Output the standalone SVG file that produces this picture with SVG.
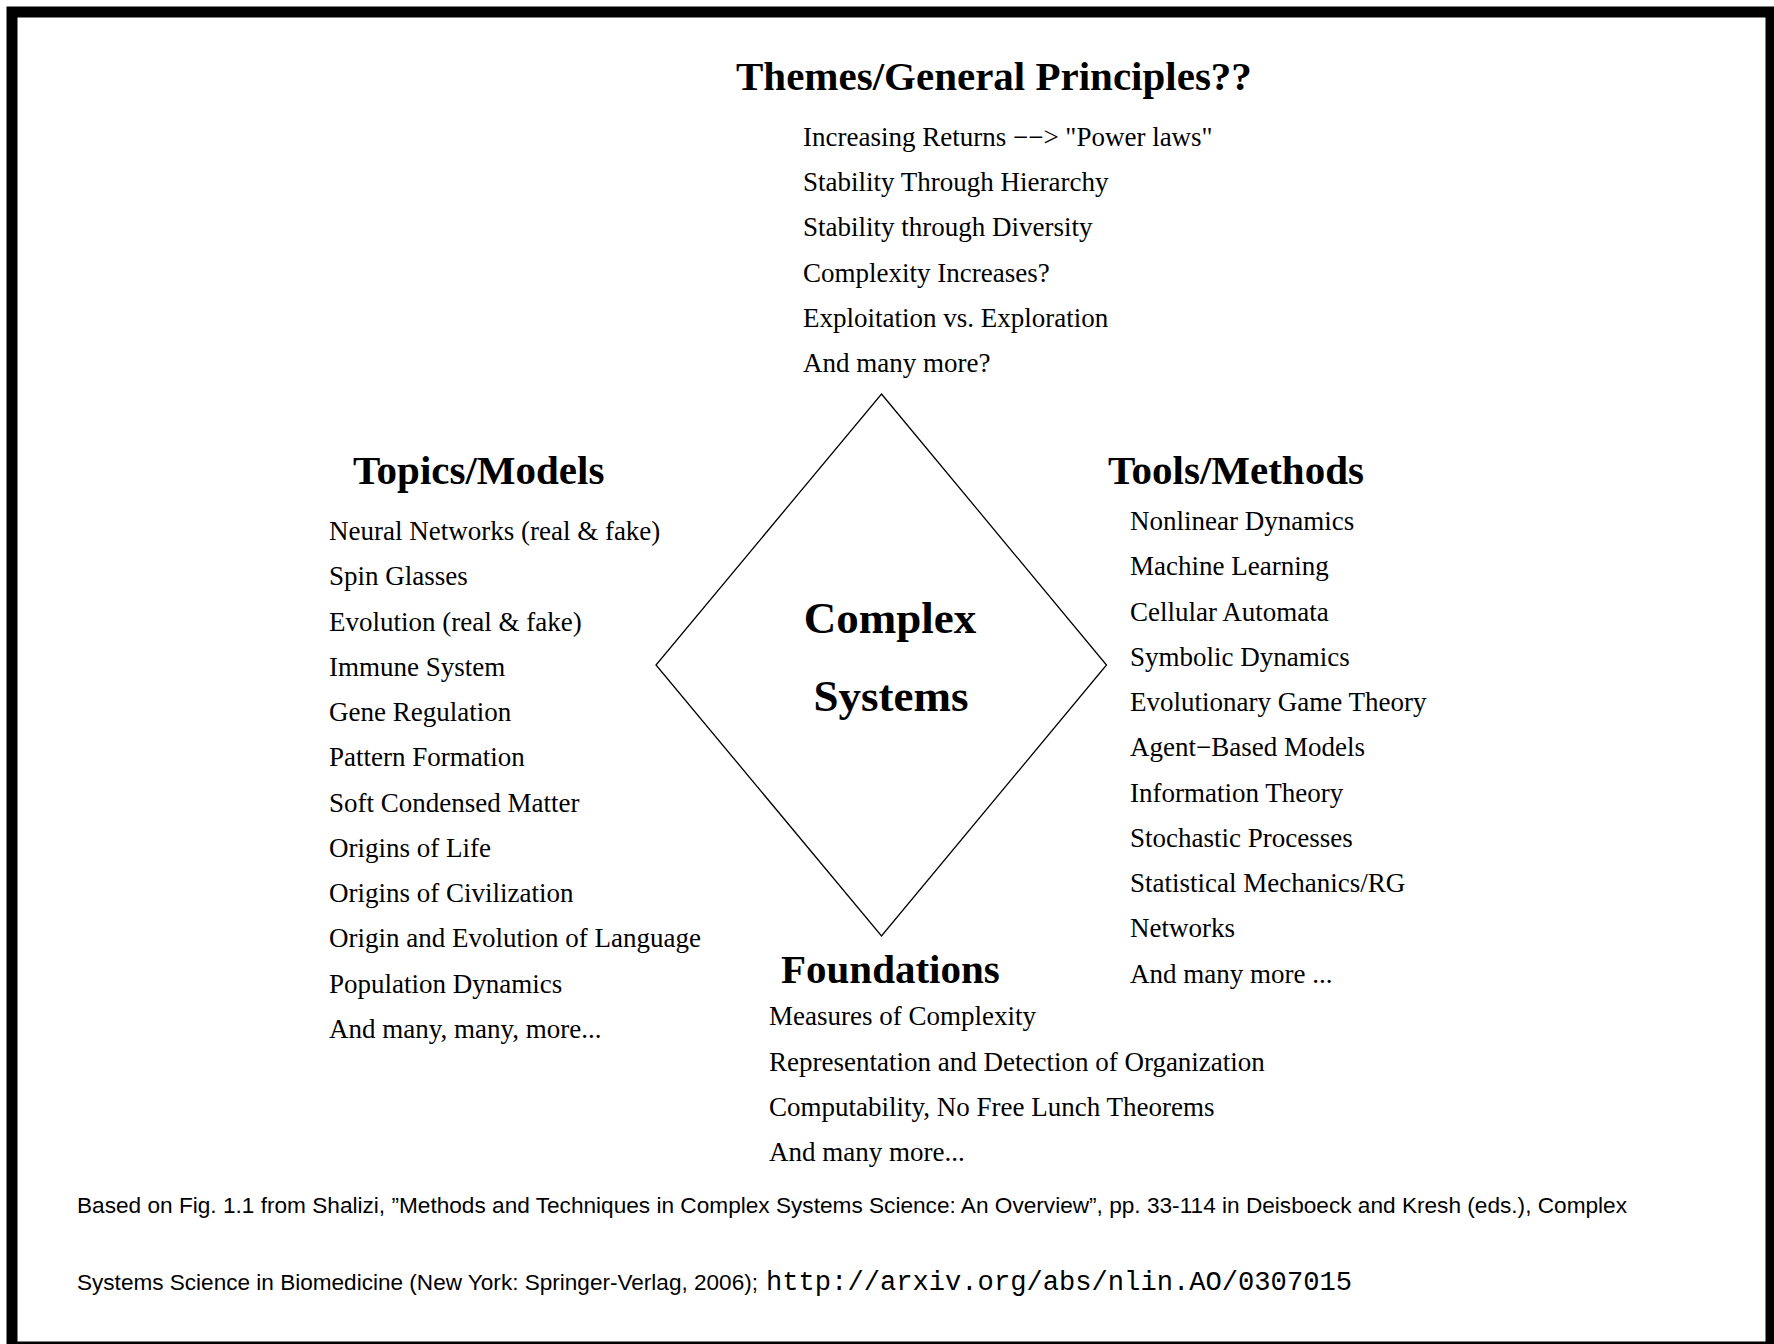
<svg xmlns="http://www.w3.org/2000/svg" width="1774" height="1344" viewBox="0 0 1774 1344">
<style>
.hd{font-family:"Liberation Serif","Times New Roman",serif;font-weight:bold;font-size:41px;fill:#000}
.it{font-family:"Liberation Serif","Times New Roman",serif;font-size:27px;fill:#000}
.cs{font-family:"Liberation Serif","Times New Roman",serif;font-weight:bold;font-size:45px;fill:#000}
.ft{font-family:"Liberation Sans",Arial,sans-serif;font-size:22px;fill:#000}
.mono{font-family:"Liberation Mono","Courier New",monospace;font-size:27px;fill:#000}
</style>
<rect x="0" y="0" width="1774" height="1344" fill="#fff"/>
<rect x="12" y="12" width="1759" height="1335" fill="none" stroke="#000" stroke-width="11"/>
<g id="connectors"></g>
<g id="center">
<polygon points="881.5,394 1106.5,665 881.5,936 656,665" fill="none" stroke="#000" stroke-width="1.3"/>
<text class="cs" x="890" y="633" text-anchor="middle">Complex</text>
<text class="cs" x="891" y="711" text-anchor="middle">Systems</text>
</g>
<g id="themes">
<text class="hd" x="736" y="90">Themes/General Principles??</text>
<text class="it" x="803" y="146">Increasing Returns −−&gt; "Power laws"</text>
<text class="it" x="803" y="191">Stability Through Hierarchy</text>
<text class="it" x="803" y="236">Stability through Diversity</text>
<text class="it" x="803" y="282">Complexity Increases?</text>
<text class="it" x="803" y="327">Exploitation vs. Exploration</text>
<text class="it" x="803" y="372">And many more?</text>
</g>
<g id="topics">
<text class="hd" x="353" y="484">Topics/Models</text>
<text class="it" x="329" y="540">Neural Networks (real &amp; fake)</text>
<text class="it" x="329" y="585">Spin Glasses</text>
<text class="it" x="329" y="630.5">Evolution (real &amp; fake)</text>
<text class="it" x="329" y="676">Immune System</text>
<text class="it" x="329" y="721">Gene Regulation</text>
<text class="it" x="329" y="766">Pattern Formation</text>
<text class="it" x="329" y="811.5">Soft Condensed Matter</text>
<text class="it" x="329" y="857">Origins of Life</text>
<text class="it" x="329" y="902">Origins of Civilization</text>
<text class="it" x="329" y="947">Origin and Evolution of Language</text>
<text class="it" x="329" y="992.5">Population Dynamics</text>
<text class="it" x="329" y="1038">And many, many, more...</text>
</g>
<g id="tools">
<text class="hd" x="1108" y="484">Tools/Methods</text>
<text class="it" x="1130" y="530">Nonlinear Dynamics</text>
<text class="it" x="1130" y="575">Machine Learning</text>
<text class="it" x="1130" y="620.5">Cellular Automata</text>
<text class="it" x="1130" y="666">Symbolic Dynamics</text>
<text class="it" x="1130" y="711">Evolutionary Game Theory</text>
<text class="it" x="1130" y="756">Agent−Based Models</text>
<text class="it" x="1130" y="801.5">Information Theory</text>
<text class="it" x="1130" y="847">Stochastic Processes</text>
<text class="it" x="1130" y="892">Statistical Mechanics/RG</text>
<text class="it" x="1130" y="937">Networks</text>
<text class="it" x="1130" y="982.5">And many more ...</text>
</g>
<g id="foundations">
<text class="hd" x="781" y="983">Foundations</text>
<text class="it" x="769" y="1025">Measures of Complexity</text>
<text class="it" x="769" y="1070.5">Representation and Detection of Organization</text>
<text class="it" x="769" y="1116">Computability, No Free Lunch Theorems</text>
<text class="it" x="769" y="1161">And many more...</text>
</g>
<g id="footer">
<text class="ft" x="77" y="1213" textLength="1550" lengthAdjust="spacingAndGlyphs">Based on Fig. 1.1 from Shalizi, ”Methods and Techniques in Complex Systems Science: An Overview”, pp. 33-114 in Deisboeck and Kresh (eds.), Complex</text>
<text class="ft" x="77" y="1290" textLength="681" lengthAdjust="spacingAndGlyphs">Systems Science in Biomedicine (New York: Springer-Verlag, 2006);</text>
<text class="mono" x="766" y="1290" textLength="586" lengthAdjust="spacingAndGlyphs">http://arxiv.org/abs/nlin.AO/0307015</text>
</g>
</svg>
